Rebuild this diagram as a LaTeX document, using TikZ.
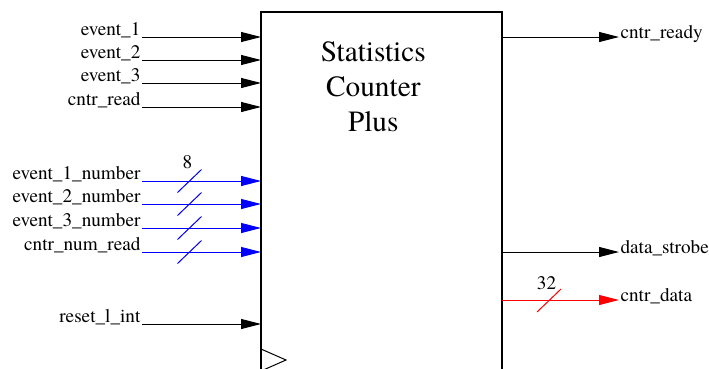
\documentclass[tikz,border=0pt]{standalone}
\usepackage{fontspec}
\setmainfont{texgyretermes}[Extension=.otf, UprightFont=*-regular, BoldFont=*-bold]
\usetikzlibrary{arrows.meta, positioning}
\definecolor{busblue}{HTML}{0000FF}
\definecolor{busred}{HTML}{FF0000}

\begin{document}
\begin{tikzpicture}[
    x=0.75pt, y=-0.75pt,
    block/.style={rectangle, draw, line width=1.5pt, outer sep=0pt, inner sep=0pt,
                  minimum width=180.75pt, minimum height=300pt, anchor=north west},
    ttl/.style={anchor=north, align=center, inner sep=0pt, font=\rmfamily\fontsize{22}{26.25}\selectfont},
    inlbl/.style={anchor=south east, inner sep=1pt, yshift=-2pt, font=\rmfamily\fontsize{14.4}{16}\selectfont},
    outlbl/.style={anchor=base west, yshift=-1pt, inner sep=1pt, font=\rmfamily\fontsize{14.4}{16}\selectfont},
    buswd/.style={anchor=base, inner sep=0pt, font=\rmfamily\fontsize{14.4}{16}\selectfont},
    sig/.style={-{Triangle[length=15pt, width=7.5pt]}, line width=0.75pt},
    bus/.style={sig, color=busblue},
    obus/.style={sig, color=busred},
    tick/.style={line width=0.75pt}
]
\useasboundingbox (0,0) rectangle (709,368);

% block
\node[block] (blk) at (261,12) {};
\node[ttl] (title) at (373.3,41) {Statistics\\Counter\\Plus};
\draw[line width=0.75pt] (261,349) coordinate (ck1) -- (286,360) coordinate (ck2) -- (261,371) coordinate (ck3);

% inputs
\coordinate (ev1) at (142,37);
\coordinate (ev2) at (142,60);
\coordinate (ev3) at (142,83);
\coordinate (rd)  at (142,107);
\coordinate (nb1) at (142,181);
\coordinate (nb2) at (142,204);
\coordinate (nb3) at (142,228);
\coordinate (nrd) at (142,252);
\coordinate (rst) at (142,324);
\node[inlbl] (ev1l) at (ev1) {event\_1};
\node[inlbl] (ev2l) at (ev2) {event\_2};
\node[inlbl] (ev3l) at (ev3) {event\_3};
\node[inlbl] (rdl)  at (rd)  {cntr\_read};
\node[inlbl] (nb1l) at (nb1) {event\_1\_number};
\node[inlbl] (nb2l) at (nb2) {event\_2\_number};
\node[inlbl] (nb3l) at (nb3) {event\_3\_number};
\node[inlbl] (nrdl) at (nrd) {cntr\_num\_read};
\node[inlbl] (rstl) at (rst) {reset\_l\_int};
\draw[sig] (ev1) -- (ev1 -| blk.west);
\draw[sig] (ev2) -- (ev2 -| blk.west);
\draw[sig] (ev3) -- (ev3 -| blk.west);
\draw[sig] (rd) -- (rd -| blk.west);
\draw[bus] (nb1) -- (nb1 -| blk.west);
\draw[bus] (nb2) -- (nb2 -| blk.west);
\draw[bus] (nb3) -- (nb3 -| blk.west);
\draw[bus] (nrd) -- (nrd -| blk.west);
\draw[sig] (rst) -- (rst -| blk.west);

% bus width ticks
\coordinate (t1) at (189.5,181);
\coordinate (t2) at (189.5,204);
\coordinate (t3) at (189.5,228);
\coordinate (t4) at (189.5,252);
\draw[tick, busblue] (t1) ++(-12,11.5) -- ++(24,-23);
\draw[tick, busblue] (t2) ++(-12,11.5) -- ++(24,-23);
\draw[tick, busblue] (t3) ++(-12,11.5) -- ++(24,-23);
\draw[tick, busblue] (t4) ++(-12,11.5) -- ++(24,-23);
\node[buswd] (w8) at (187.5,168) {8};

% outputs
\coordinate (rdy) at (619,37);
\coordinate (stb) at (619,252);
\coordinate (dat) at (619,300);
\draw[sig] (rdy -| blk.east) -- (rdy);
\draw[sig] (stb -| blk.east) -- (stb);
\draw[obus] (dat -| blk.east) -- (dat);
\node[outlbl] (rdyl) at (rdy) {cntr\_ready};
\node[outlbl] (stbl) at (stb) {data\_strobe};
\node[outlbl] (datl) at (dat) {cntr\_data};
\coordinate (t5) at (549,300.5);
\draw[tick, busred] (t5) ++(-12,11.5) -- ++(24,-23);
\node[buswd] (w32) at (546.5,289) {32};
\end{tikzpicture}
\end{document}
